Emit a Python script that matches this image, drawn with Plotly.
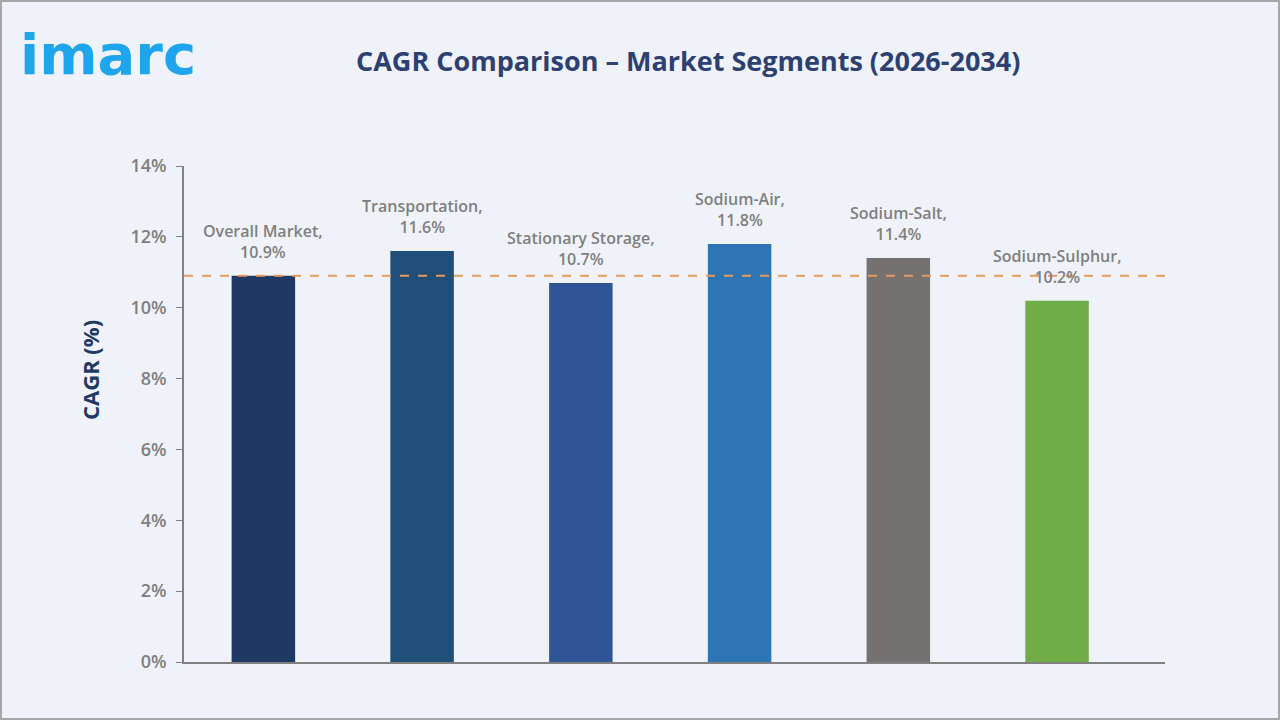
import plotly.graph_objects as go

categories = ["Overall Market", "Transportation", "Stationary Storage", "Sodium-Air", "Sodium-Salt", "Sodium-Sulphur"]
cagr = [10.9, 11.6, 10.7, 11.8, 11.4, 10.2]
colors = ["#203864", "#1f4e79", "#2f5597", "#2e75b6", "#767171", "#70ad47"]
reference_value = 10.9
y_ticks = [0, 2, 4, 6, 8, 10, 12, 14]
y_tick_labels = [f"{v}%" for v in y_ticks]

W, H = 1280, 720
ml, mr, mt, mb = 184, 115, 166, 58
pw = W - ml - mr
ph = H - mt - mb

fig = go.Figure()
fig.add_trace(go.Bar(
    x=categories, y=cagr, marker=dict(color=colors, line=dict(width=0)),
    hoverinfo="x+y", showlegend=False,
))

# dashed reference line
fig.add_shape(type="line", xref="paper", yref="y", x0=0, x1=1,
              y0=reference_value, y1=reference_value,
              line=dict(color="#e59a5f", width=2, dash="dash"))

for c, v in zip(categories, cagr):
    fig.add_annotation(x=c, y=v, xref="x", yref="y", text=f"{c},<br>{v}%",
                       showarrow=False, yanchor="bottom", yshift=11,
                       font=dict(family="Open Sans", size=16, color="#7f7f7f", weight=600))

fig.add_annotation(xref="paper", yref="paper", x=(688 - ml) / pw, y=1 + (mt - 60) / ph,
                   text="<b>CAGR Comparison – Market Segments (2026-2034)</b>", showarrow=False,
                   xanchor="center", yanchor="middle",
                   font=dict(family="Open Sans", size=27, color="#2e4070"))

fig.add_annotation(xref="paper", yref="paper", x=(18 - ml) / pw, y=1 + (mt - 55) / ph,
                   text="<b>imarc</b>", showarrow=False, xanchor="left", yanchor="middle",
                   font=dict(family="DejaVu Sans", size=56, color="#1ea5ec"))

fig.add_annotation(xref="paper", yref="paper", x=(90 - ml) / pw, y=(H - mb - 370) / ph,
                   text="<b>CAGR (%)</b>", showarrow=False, textangle=-90,
                   xanchor="center", yanchor="middle",
                   font=dict(family="Open Sans", size=22, color="#1f3864"))

# outer border
fig.add_shape(type="rect", xref="paper", yref="paper",
              x0=(1 - ml) / pw, x1=(W - 1 - ml) / pw,
              y0=-(mb - 1) / ph, y1=1 + (mt - 1) / ph,
              line=dict(color="#a6a6a6", width=2), fillcolor="rgba(0,0,0,0)", layer="above")

fig.update_layout(
    width=W, height=H,
    margin=dict(l=ml, r=mr, t=mt, b=mb),
    paper_bgcolor="#eff3f9", plot_bgcolor="#eff3f9",
    bargap=0.6,
    xaxis=dict(showticklabels=False, showline=True, linecolor="#808080", linewidth=1.5,
               ticks="", showgrid=False, zeroline=False, fixedrange=True,
               range=[-0.5, 5.68]),
    yaxis=dict(range=[0, 14], tickvals=y_ticks, ticktext=y_tick_labels,
               showline=True, linecolor="#808080", linewidth=1.5, ticks="outside",
               ticklen=6, tickcolor="#808080", showgrid=False, zeroline=False,
               tickfont=dict(family="Open Sans", size=18, color="#7f7f7f", weight=600),
               ticklabelstandoff=6),
    font=dict(family="Open Sans"),
)

fig.write_html("out.html")
